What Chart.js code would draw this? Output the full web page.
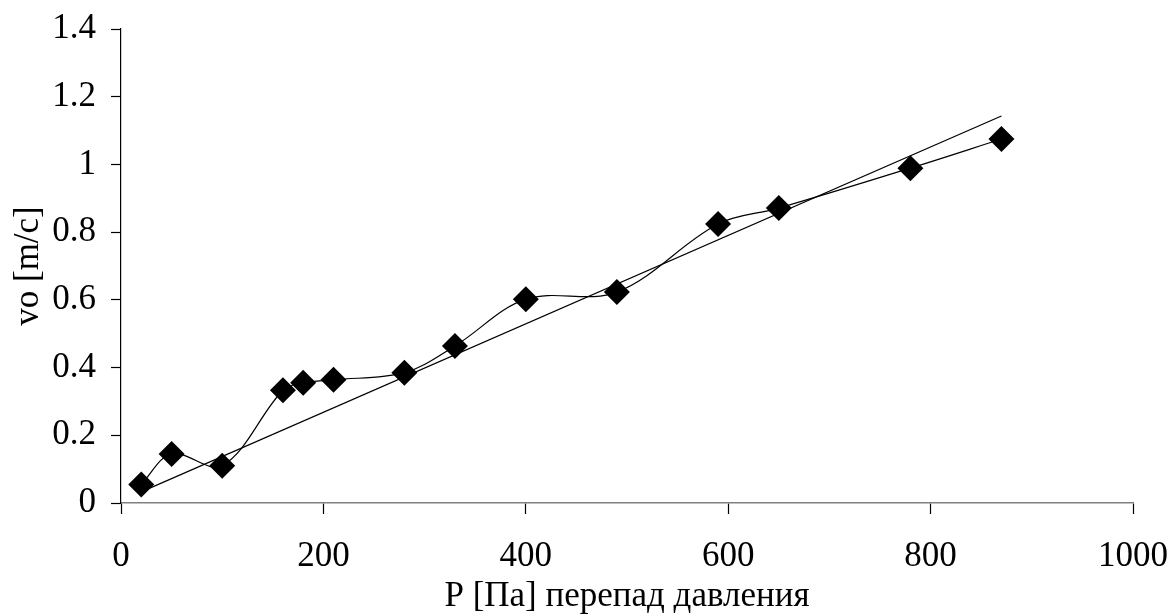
<!DOCTYPE html>
<html>
<head>
<meta charset="utf-8">
<script src="https://cdn.jsdelivr.net/npm/chart.js@4/dist/chart.umd.min.js"></script>
<style>
  html, body { margin: 0; padding: 0; background: #fff; }
  #wrap { width: 1172px; height: 614px; position: relative; }
</style>
</head>
<body>
<div id="wrap"><canvas id="chart"></canvas></div>
<script>
// measured points: pressure drop P [Pa] vs velocity vo [m/c]
const pressure = [20, 50, 100, 160, 180, 210, 280, 330, 400, 490, 590, 650, 780, 870];
const velocity = [0.055, 0.145, 0.11, 0.333, 0.355, 0.364, 0.385, 0.464, 0.602, 0.623, 0.824, 0.871, 0.989, 1.075];

// straight trend line, ends
const trendX = [20, 870];
const trendY = [0.033, 1.143];

const xTicks = [0, 200, 400, 600, 800, 1000];
const yTicks = [0, 0.2, 0.4, 0.6, 0.8, 1, 1.2, 1.4];

const serif = "'Liberation Serif', 'Times New Roman', serif";

const points = pressure.map((p, i) => ({ x: p, y: velocity[i] }));
const trend = trendX.map((p, i) => ({ x: p, y: trendY[i] }));

new Chart(document.getElementById('chart'), {
    type: 'scatter',
    data: {
        datasets: [
            {
                label: 'trend',
                data: trend,
                showLine: true,
                borderColor: '#000',
                borderWidth: 1.2,
                pointRadius: 0,
                fill: false
            },
            {
                label: 'vo',
                data: points,
                showLine: true,
                borderColor: '#000',
                borderWidth: 1.2,
                tension: 0.35,
                pointStyle: 'rectRot',
                pointRadius: 13,
                pointBackgroundColor: '#000',
                pointBorderColor: '#000',
                pointBorderWidth: 0,
                fill: false
            }
        ]
    },
    options: {
        responsive: true,
        maintainAspectRatio: false,
        animation: false,
        layout: { padding: { top: 29, right: 39, left: 0, bottom: 0 } },
        plugins: { legend: { display: false }, tooltip: { enabled: false } },
        scales: {
            x: {
                type: 'linear',
                min: 0, max: 1000,
                afterBuildTicks: (s) => { s.ticks = xTicks.map(v => ({ value: v })); },
                afterFit: (s) => { s.height = 111; s.paddingLeft = 0; s.paddingRight = 0; },
                border: { display: true, color: '#808080', width: 1.5 },
                grid: { drawOnChartArea: false, drawTicks: true, tickLength: 11, color: '#000', tickWidth: 1.2 },
                ticks: {
                    color: '#000', font: { family: serif, size: 35 }, padding: 22, maxRotation: 0,
                    callback: (v) => String(v)
                },
                title: {
                    display: true,
                    text: 'P [Па] перепад давления',
                    color: '#000',
                    font: { family: serif, size: 35 },
                    padding: { top: 0, bottom: -4 }
                }
            },
            y: {
                type: 'linear',
                min: 0, max: 1.4,
                afterBuildTicks: (s) => { s.ticks = yTicks.map(v => ({ value: v })); },
                afterFit: (s) => { s.width = 121; s.paddingTop = 0; s.paddingBottom = 0; },
                border: { display: true, color: '#000', width: 1.2 },
                grid: { drawOnChartArea: false, drawTicks: true, tickLength: 10, color: '#000', tickWidth: 1.2 },
                ticks: {
                    color: '#000', font: { family: serif, size: 35 }, padding: 15,
                    callback: (v) => String(Math.round(v * 10) / 10)
                },
                title: {
                    display: true,
                    text: 'vo [m/c]',
                    color: '#000',
                    font: { family: serif, size: 35 },
                    padding: { top: 8, bottom: 0 }
                }
            }
        }
    }
});
</script>
</body>
</html>
